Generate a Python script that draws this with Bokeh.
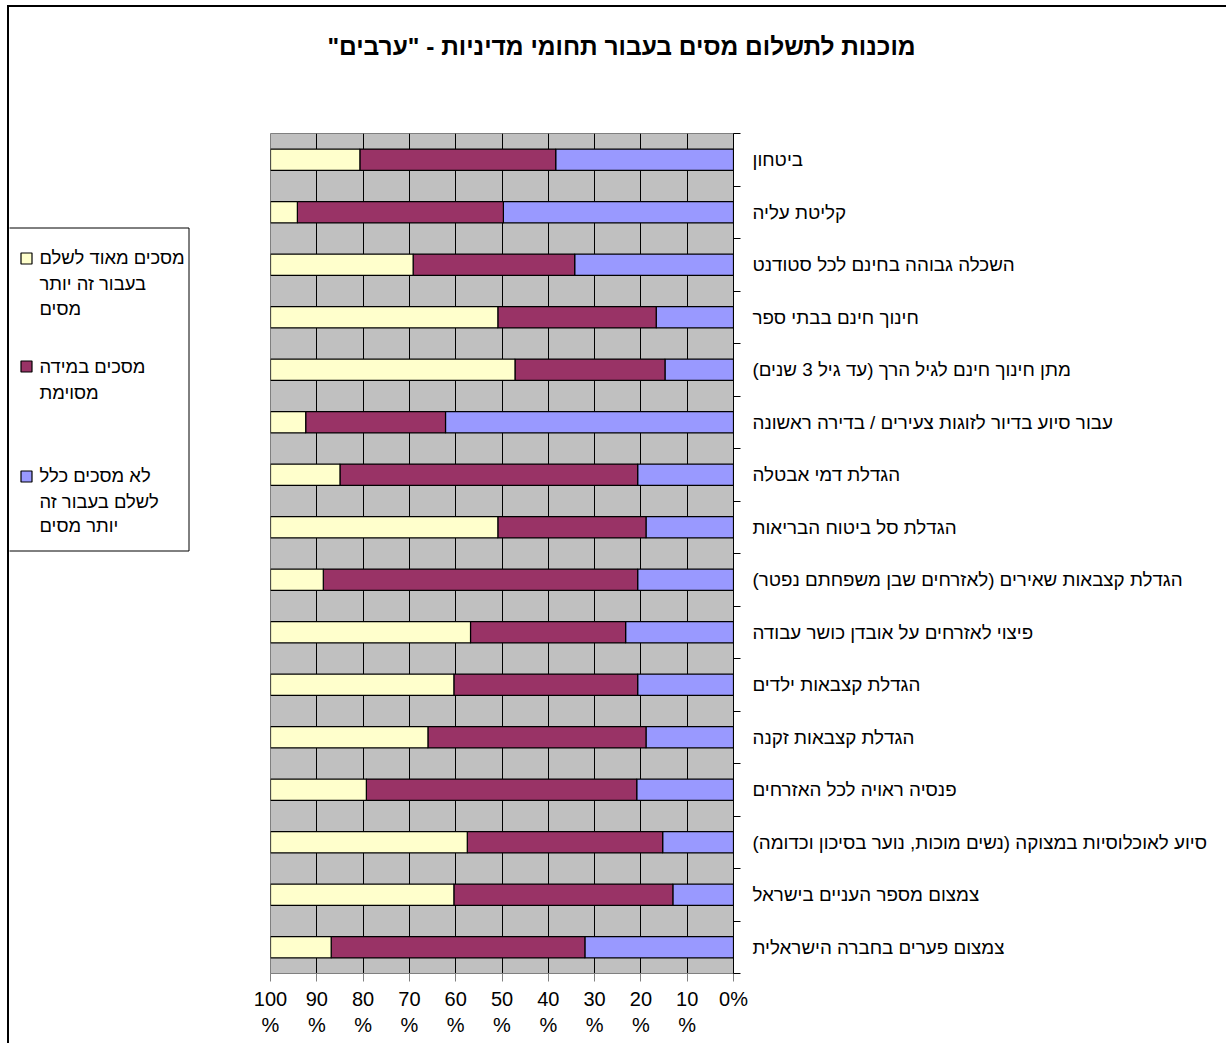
from bokeh.plotting import figure
from bokeh.layouts import row, column
from bokeh.models import Range1d, FixedTicker
from bokeh.core.properties import value
from bokeh.embed import file_html
from bokeh.resources import INLINE

# ---------------- data (top row first) ----------------
categories = [
    "ביטחון",
    "קליטת עליה",
    "השכלה גבוהה בחינם לכל סטודנט",
    "חינוך חינם בבתי ספר",
    "מתן חינוך חינם לגיל הרך (עד גיל 3 שנים)",
    "עבור סיוע בדיור לזוגות צעירים / בדירה ראשונה",
    "הגדלת דמי אבטלה",
    "הגדלת סל ביטוח הבריאות",
    "הגדלת קצבאות שאירים (לאזרחים שבן משפחתם נפטר)",
    "פיצוי לאזרחים על אובדן כושר עבודה",
    "הגדלת קצבאות ילדים",
    "הגדלת קצבאות זקנה",
    "פנסיה ראויה לכל האזרחים",
    "סיוע לאוכלוסיות במצוקה (נשים מוכות, נוער בסיכון וכדומה)",
    "צמצום מספר העניים בישראל",
    "צמצום פערים בחברה הישראלית",
]
very_agree = [19.3, 5.8, 30.8, 49.1, 52.8, 7.6, 15.0, 49.1, 11.4, 43.2, 39.6, 34.0, 20.7, 42.5, 39.6, 13.1]
somewhat_agree = [42.3, 44.5, 34.9, 34.2, 32.4, 30.2, 64.3, 32.0, 67.9, 33.5, 39.7, 47.1, 58.4, 42.2, 47.3, 54.8]
not_agree = [38.4, 49.7, 34.3, 16.7, 14.8, 62.2, 20.7, 18.9, 20.7, 23.3, 20.7, 18.9, 20.9, 15.3, 13.1, 32.1]

series_lines = [
    ["מסכים מאוד לשלם", "בעבור זה יותר", "מסים"],
    ["מסכים במידה", "מסוימת"],
    ["לא מסכים כלל", "לשלם בעבור זה", "יותר מסים"],
]
series_colors = ["#FFFFCC", "#993366", "#9999FF"]

x_ticks = [0, 10, 20, 30, 40, 50, 60, 70, 80, 90, 100]
x_tick_labels = ["0%", "10\n%", "20\n%", "30\n%", "40\n%", "50\n%", "60\n%", "70\n%", "80\n%", "90\n%", "100\n%"]

title_text = 'מוכנות לתשלום מסים בעבור תחומי מדיניות - "ערבים"'

RLM = "\u200F"
FONT = "Liberation Sans"
W, H = 1226, 1043
X0, Y0 = 9, 7            # content origin (inside the css border)
TOP = 133                # page y of plot frame top
BOTTOM = 973             # page y of plot frame bottom
LEG_R = 245              # page x where the main figure starts


def blank(width, height, x_range, y_range, **kw):
    f = figure(width=width, height=height, x_range=x_range, y_range=y_range,
               output_backend="svg", toolbar_location=None,
               x_axis_location=None, y_axis_location=None, **kw)
    f.grid.visible = False
    f.outline_line_color = None
    f.background_fill_color = "white"
    f.border_fill_color = "white"
    return f


# ---------------- title strip (page coordinates) ----------------
tf = blank(W - X0, TOP - Y0, Range1d(X0, W), Range1d(TOP, Y0), min_border=0)
tf.text(x=[621], y=[46], text=[title_text + RLM], text_font=value(FONT), text_font_size="24.5px",
        text_font_style="bold", text_align="center", text_baseline="middle", text_color="black")

# ---------------- legend panel (page coordinates) ----------------
lf = blank(LEG_R - X0, H - TOP, Range1d(X0, LEG_R), Range1d(BOTTOM, TOP),
           min_border_left=0, min_border_right=0, min_border_top=0, min_border_bottom=H - BOTTOM)
lf.quad(left=[7.5], right=[188.5], top=[227.5], bottom=[550.5], fill_color="white",
        line_color="black", line_width=1)
square_tops = [252, 360, 470]
line_centers = [[257, 283, 308], [366, 392], [475, 501, 525]]
lf.quad(left=[20.5] * 3, right=[31.5] * 3, top=[t + 0.5 for t in square_tops],
        bottom=[t + 11.5 for t in square_tops], fill_color=series_colors, line_color="black", line_width=1.2)
tx, ty, tt = [], [], []
for lines, lc in zip(series_lines, line_centers):
    for txt, yc in zip(lines, lc):
        tx.append(39)
        ty.append(yc)
        tt.append(txt + RLM)
lf.text(x=tx, y=ty, text=tt, text_font=value(FONT), text_font_size="18.4px",
        text_align="left", text_baseline="middle", text_color="black")

# ---------------- main chart ----------------
n = len(categories)
ypos = [n - i for i in range(n)]  # top category at n, bottom at 1

tot = [a + b + c for a, b, c in zip(very_agree, somewhat_agree, not_agree)]
blue = [c * 100.0 / t for c, t in zip(not_agree, tot)]
maroon = [b * 100.0 / t for b, t in zip(somewhat_agree, tot)]
yellow = [a * 100.0 / t for a, t in zip(very_agree, tot)]
data = dict(y=ypos, blue=blue, maroon=maroon, yellow=yellow)

p = figure(
    width=W - LEG_R, height=H - TOP,
    x_range=Range1d(100, 0), y_range=Range1d(0.5, n + 0.5),
    output_backend="svg", toolbar_location=None,
    x_axis_location="below", y_axis_location="right",
    min_border_left=270 - LEG_R, min_border_top=0,
    min_border_right=W - 733, min_border_bottom=H - BOTTOM,
)
p.background_fill_color = "#C0C0C0"
p.border_fill_color = "white"
p.outline_line_color = "#808080"

p.hbar_stack(["blue", "maroon", "yellow"], y="y", height=0.406, source=data,
             fill_color=[series_colors[2], series_colors[1], series_colors[0]],
             line_color="black", line_width=1.2)

xa = p.xaxis[0]
xa.ticker = FixedTicker(ticks=x_ticks, minor_ticks=[])
xa.major_label_overrides = {t: l for t, l in zip(x_ticks, x_tick_labels)}
xa.axis_line_color = "#808080"
xa.major_tick_line_color = "#808080"
xa.major_tick_out = 8
xa.major_tick_in = 0
xa.minor_tick_line_color = None
xa.major_label_standoff = 6
xa.major_label_text_font = FONT
xa.major_label_text_font_size = "20px"
xa.major_label_text_color = "black"
xa.major_label_text_line_height = 1.2

ya = p.yaxis[0]
ya.ticker = FixedTicker(ticks=ypos, minor_ticks=[k + 0.5 for k in range(n + 1)])
ya.major_label_overrides = {y: c + RLM for y, c in zip(ypos, categories)}
ya.axis_line_color = "black"
ya.major_tick_out = 0
ya.major_tick_in = 0
ya.minor_tick_out = 7
ya.minor_tick_in = 0
ya.minor_tick_line_color = "black"
ya.major_label_standoff = 12
ya.major_label_text_font = FONT
ya.major_label_text_font_size = "18.8px"
ya.major_label_text_color = "black"

p.xgrid.ticker = FixedTicker(ticks=x_ticks)
p.xgrid.grid_line_color = "black"
p.ygrid.grid_line_color = None

layout = column(tf, row(lf, p, spacing=0), spacing=0,
                styles={"margin-left": "7px", "margin-top": "5px",
                        "border-left": "2px solid black", "border-top": "2px solid black"})
open("out.html", "w").write(file_html(layout, INLINE))
